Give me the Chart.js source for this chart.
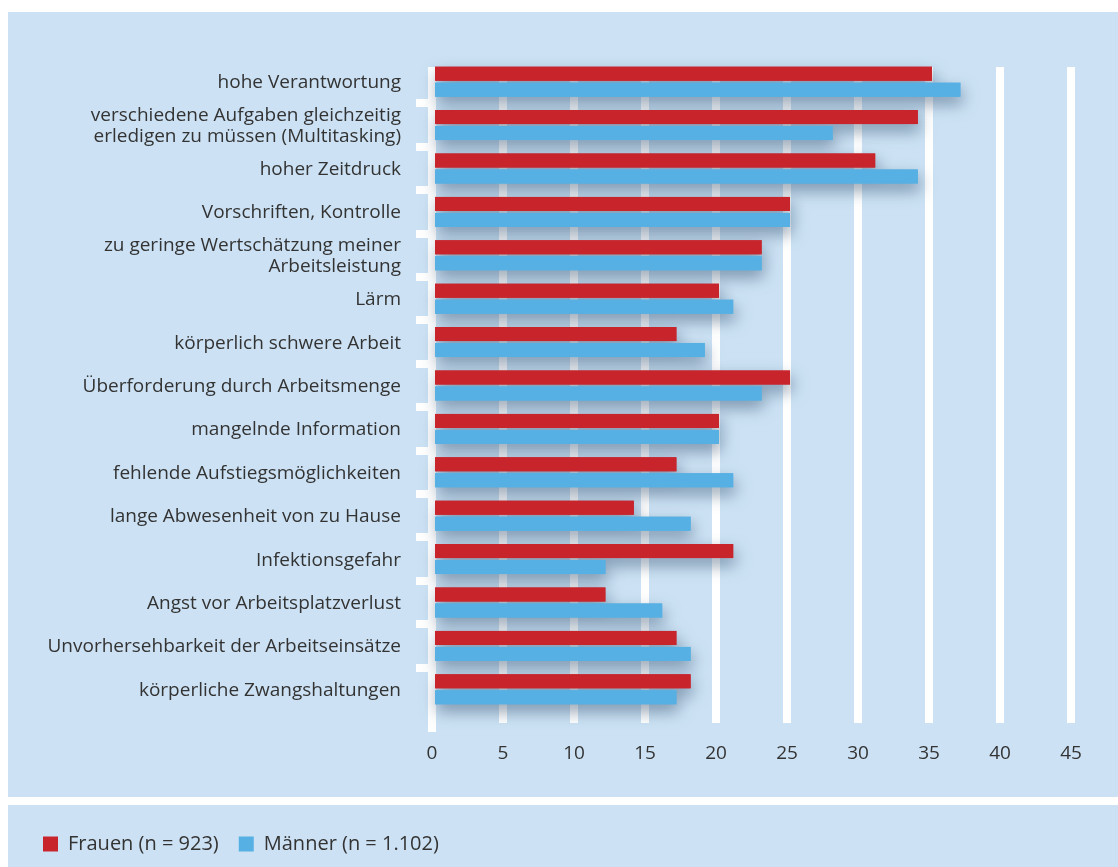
<!DOCTYPE html>
<html>
<head>
<meta charset="utf-8">
<script src="https://cdn.jsdelivr.net/npm/chart.js@4.4.1/dist/chart.umd.min.js"></script>
<style>
  html, body { margin: 0; padding: 0; background: #fff; }
  #wrap { position: relative; width: 1118px; height: 867px; overflow: hidden; }
  .panel { position: absolute; left: 8px; right: 0; background: #cce2f4; }
  #top { top: 12px; height: 785px; }
  #bottom { top: 805px; height: 62px; }
  #chart { position: absolute; left: 0; top: 0; }
</style>
</head>
<body>
<div id="wrap">
  <div class="panel" id="top"></div>
  <div class="panel" id="bottom"></div>
  <canvas id="chart" width="1118" height="867"></canvas>
</div>
<script>
// ── Data ─────────────────────────────────────────────────────────────────────
const categories = [
  "hohe Verantwortung",
  ["verschiedene Aufgaben gleichzeitig", "erledigen zu müssen (Multitasking)"],
  "hoher Zeitdruck",
  "Vorschriften, Kontrolle",
  ["zu geringe Wertschätzung meiner", "Arbeitsleistung"],
  "Lärm",
  "körperlich schwere Arbeit",
  "Überforderung durch Arbeitsmenge",
  "mangelnde Information",
  "fehlende Aufstiegsmöglichkeiten",
  "lange Abwesenheit von zu Hause",
  "Infektionsgefahr",
  "Angst vor Arbeitsplatzverlust",
  "Unvorhersehbarkeit der Arbeitseinsätze",
  "körperliche Zwangshaltungen"
];
const frauen = [35, 34, 31, 25, 23, 20, 17, 25, 20, 17, 14, 21, 12, 17, 18];
const maenner = [37, 28, 34, 25, 23, 21, 19, 23, 20, 21, 18, 12, 16, 18, 17];
const xTicks = [0, 5, 10, 15, 20, 25, 30, 35, 40, 45];

const RED = "#c8242c";
const BLUE = "#56b0e3";
const TEXT = "#333333";
const FONT = "'Open Sans', 'Noto Sans', sans-serif";
const FS = 19;

// ── Plugins ──────────────────────────────────────────────────────────────────
// white vertical grid bars behind the data, zero line a bit longer
const gridBars = {
  id: "gridBars",
  beforeDatasetsDraw(chart) {
    const { ctx, scales: { x } } = chart;
    ctx.save();
    ctx.fillStyle = "#ffffff";
    xTicks.forEach(v => {
      const px = x.getPixelForValue(v);
      const bottom = v === 0 ? 732 : 723;
      ctx.fillRect(px - 4, 67, 8, bottom - 67);
    });
    ctx.restore();
  }
};

// bars sit 3px right of the grid line in the original; soft shadow under each
const barShadow = {
  id: "barShadow",
  beforeDatasetsDraw(chart) {
    const ctx = chart.ctx;
    ctx.save();
    ctx.translate(3, 0);
    ctx.save();
    ctx.shadowColor = "rgba(45, 75, 105, 0.55)";
    ctx.shadowBlur = 16;
    ctx.shadowOffsetX = 2;
    ctx.shadowOffsetY = 7;
    chart.getSortedVisibleDatasetMetas().forEach(meta => {
      meta.data.forEach(bar => {
        const { x, y, base, height } = bar.getProps(["x", "y", "base", "height"], true);
        ctx.fillStyle = meta.controller.getDataset().backgroundColor;
        ctx.fillRect(base, y - height / 2, x - base, height);
      });
    });
    ctx.restore();
  },
  afterDatasetsDraw(chart) {
    chart.ctx.restore();
  }
};

// ── Chart ────────────────────────────────────────────────────────────────────
new Chart(document.getElementById("chart"), {
  type: "bar",
  data: {
    labels: categories,
    datasets: [
      { label: "Frauen (n = 923)", data: frauen, backgroundColor: RED },
      { label: "Männer (n = 1.102)", data: maenner, backgroundColor: BLUE }
    ]
  },
  options: {
    indexAxis: "y",
    responsive: false,
    animation: false,
    layout: { padding: { left: 23, right: 47, top: 60, bottom: 3 } },
    datasets: { bar: { categoryPercentage: 0.737, barPercentage: 0.875, borderWidth: 0 } },
    scales: {
      x: {
        min: 0, max: 45,
        afterBuildTicks: s => { s.ticks = xTicks.map(v => ({ value: v })); },
        grid: { display: false, drawTicks: false },
        border: { display: false },
        ticks: { color: TEXT, font: { family: FONT, size: FS }, padding: 31 },
        afterFit: s => { s.height = 103; }
      },
      y: {
        grid: {
          offset: true,
          drawOnChartArea: false,
          drawTicks: true,
          tickLength: 16,
          lineWidth: 8,
          // only the inner boundaries get a tick mark
          color: c => (c.index === undefined || c.index === 0) ? "rgba(0,0,0,0)" : "#ffffff"
        },
        border: { display: false },
        ticks: {
          autoSkip: false,
          color: TEXT,
          font: { family: FONT, size: FS, lineHeight: 1.1 },
          padding: 15,
          labelOffset: 1
        },
        afterFit: s => { s.width = 432 - 23; }
      }
    },
    plugins: {
      legend: {
        position: "bottom",
        align: "start",
        labels: {
          color: TEXT,
          font: { family: FONT, size: 20 },
          boxWidth: 15, boxHeight: 15,
          padding: 20
        }
      },
      tooltip: { enabled: false }
    }
  },
  plugins: [gridBars, barShadow]
});
</script>
</body>
</html>
